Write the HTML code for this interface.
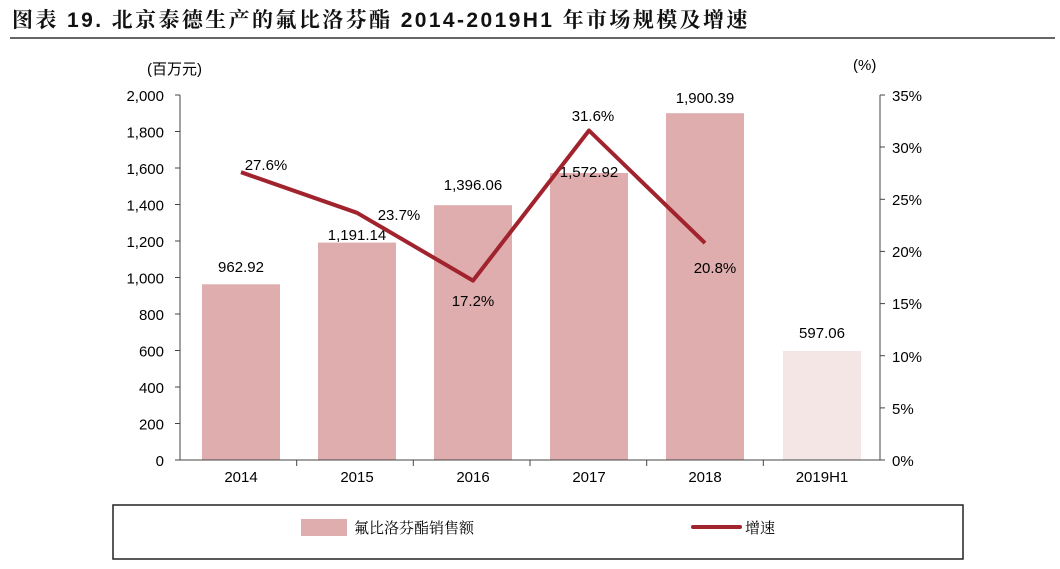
<!DOCTYPE html>
<html><head><meta charset="utf-8"><style>
body{margin:0;background:#fff;width:1060px;height:564px;overflow:hidden;font-family:"Liberation Sans","Noto Sans CJK SC",sans-serif}
</style></head><body>
<svg width="1060" height="564" xmlns="http://www.w3.org/2000/svg" font-family="Liberation Sans, Noto Sans CJK SC, sans-serif">
<text x="12" y="27" font-size="21" font-weight="bold" fill="#111" letter-spacing="2.4" font-family="Liberation Sans, Noto Serif CJK SC, serif">图表 19. 北京泰德生产的氟比洛芬酯 2014-2019H1 年市场规模及增速</text>
<line x1="10" y1="38" x2="1055" y2="38" stroke="#333" stroke-width="1.5"/>
<text x="147" y="74" font-size="15" fill="#000">(百万元)</text>
<text x="853" y="70" font-size="15" fill="#000">(%)</text>
<g fill="#dfadad">
<rect x="202" y="284.3" width="78" height="175.7"/>
<rect x="318" y="242.6" width="78" height="217.4"/>
<rect x="434" y="205.2" width="78" height="254.8"/>
<rect x="550" y="173" width="78" height="287"/>
<rect x="666" y="113.2" width="78" height="346.8"/>
<rect x="783" y="351" width="78" height="109" fill="#f5e6e6"/>
</g>
<g stroke="#444" stroke-width="1" fill="none">
<line x1="180" y1="95" x2="180" y2="460"/>
<line x1="880" y1="95" x2="880" y2="460"/>
<line x1="175" y1="460" x2="885" y2="460"/>
</g>
<g stroke="#444">
<line x1="175" y1="95" x2="180" y2="95"/><line x1="175" y1="131.5" x2="180" y2="131.5"/><line x1="175" y1="168" x2="180" y2="168"/><line x1="175" y1="204.5" x2="180" y2="204.5"/><line x1="175" y1="241" x2="180" y2="241"/><line x1="175" y1="277.5" x2="180" y2="277.5"/><line x1="175" y1="314" x2="180" y2="314"/><line x1="175" y1="350.5" x2="180" y2="350.5"/><line x1="175" y1="387" x2="180" y2="387"/><line x1="175" y1="423.5" x2="180" y2="423.5"/>
<line x1="880" y1="95" x2="885" y2="95"/><line x1="880" y1="147" x2="885" y2="147"/><line x1="880" y1="199.3" x2="885" y2="199.3"/><line x1="880" y1="251.4" x2="885" y2="251.4"/><line x1="880" y1="303.6" x2="885" y2="303.6"/><line x1="880" y1="355.7" x2="885" y2="355.7"/><line x1="880" y1="407.9" x2="885" y2="407.9"/>
<line x1="296.7" y1="460" x2="296.7" y2="466"/><line x1="413.3" y1="460" x2="413.3" y2="466"/><line x1="530" y1="460" x2="530" y2="466"/><line x1="646.7" y1="460" x2="646.7" y2="466"/><line x1="763.3" y1="460" x2="763.3" y2="466"/>
</g>
<g font-size="15" text-anchor="end" fill="#000">
<text x="164" y="101">2,000</text><text x="164" y="137.5">1,800</text><text x="164" y="174">1,600</text><text x="164" y="210.5">1,400</text><text x="164" y="247">1,200</text><text x="164" y="283.5">1,000</text><text x="164" y="320">800</text><text x="164" y="356.5">600</text><text x="164" y="393">400</text><text x="164" y="429.5">200</text><text x="164" y="466">0</text>
</g>
<g font-size="15" fill="#000">
<text x="892" y="101">35%</text><text x="892" y="153">30%</text><text x="892" y="205">25%</text><text x="892" y="257">20%</text><text x="892" y="309">15%</text><text x="892" y="362">10%</text><text x="892" y="414">5%</text><text x="892" y="466">0%</text>
</g>
<g font-size="15" text-anchor="middle" fill="#000">
<text x="241" y="482">2014</text><text x="357" y="482">2015</text><text x="473" y="482">2016</text><text x="589" y="482">2017</text><text x="705" y="482">2018</text><text x="822" y="482">2019H1</text>
<text x="241" y="272">962.92</text><text x="357" y="240">1,191.14</text><text x="473" y="190">1,396.06</text><text x="589" y="177">1,572.92</text><text x="705" y="103">1,900.39</text><text x="822" y="338">597.06</text>
<text x="266" y="170">27.6%</text><text x="399" y="220">23.7%</text><text x="473" y="306">17.2%</text><text x="593" y="121">31.6%</text><text x="715" y="273">20.8%</text>
</g>
<polyline points="241,172.2 357,212.8 473,280.6 589,130.5 705,243.1" fill="none" stroke="#a0232d" stroke-width="4" stroke-linejoin="round"/>
<rect x="113" y="505" width="850" height="54" fill="none" stroke="#222" stroke-width="1.5"/>
<rect x="301" y="519" width="46" height="17" fill="#dfadad"/>
<text x="354" y="533" font-size="15" fill="#000" font-family="Liberation Serif, Noto Serif CJK SC, serif">氟比洛芬酯销售额</text>
<line x1="693" y1="527" x2="740" y2="527" stroke="#a0232d" stroke-width="4" stroke-linecap="round"/>
<text x="745" y="533" font-size="15" fill="#000" font-family="Liberation Serif, Noto Serif CJK SC, serif">增速</text>
</svg>
</body></html>
